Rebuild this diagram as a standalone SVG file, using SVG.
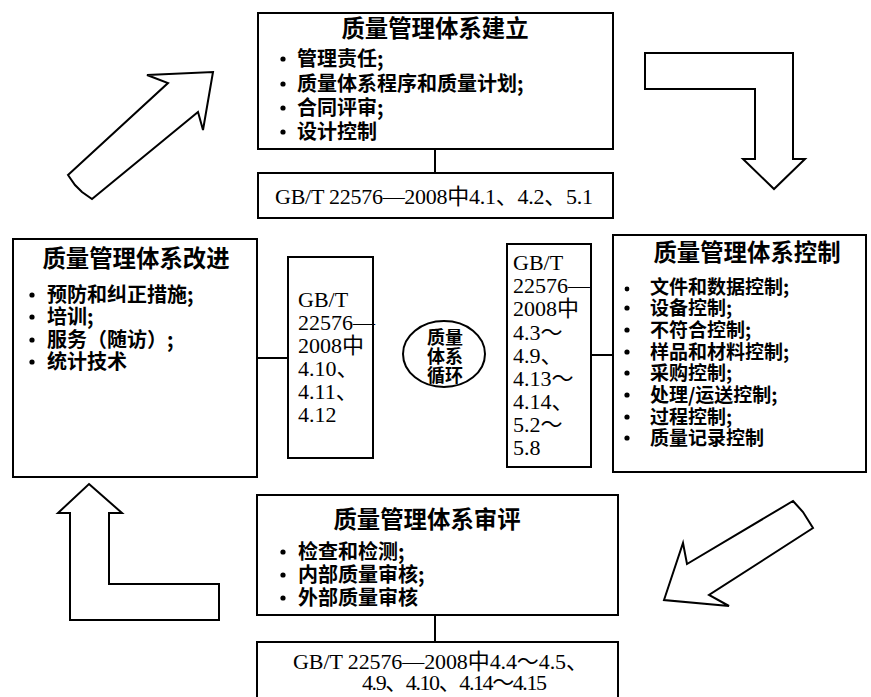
<svg xmlns="http://www.w3.org/2000/svg" width="871" height="697" viewBox="0 0 871 697">
<style>
.box{fill:#fff;stroke:#000;stroke-width:2}
.arr{fill:#fff;stroke:#000;stroke-width:2;stroke-linejoin:miter}
.ln{stroke:#000;stroke-width:2;fill:none}
.ttl{font-family:"Noto Sans CJK SC","Noto Sans",sans-serif;font-weight:bold;font-size:23.4px;fill:#000;text-anchor:middle}
.it{font-family:"Noto Sans CJK SC","Noto Sans",sans-serif;font-weight:bold;font-size:20px;fill:#000}
.it2{font-family:"Noto Sans CJK SC","Noto Sans",sans-serif;font-weight:bold;font-size:19px;fill:#000}
.gb{font-family:"Liberation Serif","Noto Sans CJK SC",serif;font-size:22px;fill:#000}
.cir{font-family:"Noto Sans CJK SC",sans-serif;font-weight:bold;font-size:18px;fill:#000;text-anchor:middle}
.bl{fill:#000}
</style>
<rect width="871" height="697" fill="#fff"/>
<g id="arrows">
<polygon class="arr" points="68,175 168,83 147,75 213,72 203,130 198,112 92,199 82,192 75,185"/>
<polygon class="arr" points="645,53 793,53 793,159 805,159 774,189 743,159 755,159 755,89 645,89"/>
<polygon class="arr" points="793,501 803,512 813,528 709,595 729,606 664,600 683,543 687,564"/>
<polygon class="arr" points="89,484 122,513 109,513 109,584 219,584 219,620 70,620 70,513 58,513"/>
</g>
<g id="connectors">
<line class="ln" x1="435" y1="149" x2="435" y2="173"/>
<line class="ln" x1="257" y1="358" x2="288" y2="358"/>
<line class="ln" x1="591" y1="355" x2="613" y2="355"/>
<line class="ln" x1="435" y1="615" x2="435" y2="642"/>
</g>
<g id="establish">
<rect class="box" x="258" y="13" width="355" height="136"/>
<text class="ttl" x="435" y="37">质量管理体系建立</text>
<circle class="bl" cx="283" cy="59" r="2.6"/><circle class="bl" cx="283" cy="84" r="2.6"/><circle class="bl" cx="283" cy="108" r="2.6"/><circle class="bl" cx="283" cy="132" r="2.6"/>
<text class="it" x="297" y="66">管理责任;</text>
<text class="it" x="297" y="91">质量体系程序和质量计划;</text>
<text class="it" x="297" y="115">合同评审;</text>
<text class="it" x="297" y="139">设计控制</text>
</g>
<g id="establish-std">
<rect class="box" x="258" y="173" width="355" height="45"/>
<text class="gb" x="275" y="204" textLength="318" lengthAdjust="spacing">GB/T 22576—2008中4.1、4.2、5.1</text>
</g>
<g id="improve">
<rect class="box" x="13" y="239" width="244" height="238"/>
<text class="ttl" x="136" y="267">质量管理体系改进</text>
<circle class="bl" cx="32" cy="295" r="2.6"/><circle class="bl" cx="32" cy="317" r="2.6"/><circle class="bl" cx="32" cy="340" r="2.6"/><circle class="bl" cx="32" cy="362" r="2.6"/>
<text class="it" x="47" y="302">预防和纠正措施;</text>
<text class="it" x="47" y="324">培训;</text>
<text class="it" x="47" y="347">服务（随访）;</text>
<text class="it" x="47" y="369">统计技术</text>
</g>
<g id="improve-std">
<rect class="box" x="288" y="257" width="85" height="201"/>
<text class="gb" x="298" y="307">GB/T</text>
<text class="gb" x="298" y="330">22576—</text>
<text class="gb" x="298" y="353">2008中</text>
<text class="gb" x="298" y="376">4.10、</text>
<text class="gb" x="298" y="399">4.11、</text>
<text class="gb" x="298" y="422">4.12</text>
</g>
<g id="cycle">
<ellipse class="box" cx="444" cy="354" rx="41" ry="33"/>
<text class="cir" x="445" y="344">质量</text>
<text class="cir" x="445" y="363">体系</text>
<text class="cir" x="445" y="382">循环</text>
</g>
<g id="control-std">
<rect class="box" x="507" y="244" width="84" height="223"/>
<text class="gb" x="513" y="270">GB/T</text>
<text class="gb" x="513" y="293">22576—</text>
<text class="gb" x="513" y="316">2008中</text>
<text class="gb" x="513" y="340">4.3～</text>
<text class="gb" x="513" y="363">4.9、</text>
<text class="gb" x="513" y="386">4.13～</text>
<text class="gb" x="513" y="409">4.14、</text>
<text class="gb" x="513" y="432">5.2～</text>
<text class="gb" x="513" y="455">5.8</text>
</g>
<g id="control">
<rect class="box" x="613" y="235" width="253" height="237"/>
<text class="ttl" x="747" y="261">质量管理体系控制</text>
<circle class="bl" cx="627" cy="289" r="2.4"/><circle class="bl" cx="627" cy="308" r="2.6"/><circle class="bl" cx="627" cy="330" r="2.6"/><circle class="bl" cx="627" cy="352" r="2.6"/><circle class="bl" cx="627" cy="373" r="2.6"/><circle class="bl" cx="627" cy="395" r="2.6"/><circle class="bl" cx="627" cy="417" r="2.6"/><circle class="bl" cx="627" cy="438" r="2.6"/>
<text class="it2" x="650" y="294">文件和数据控制;</text>
<text class="it2" x="650" y="315">设备控制;</text>
<text class="it2" x="650" y="337">不符合控制;</text>
<text class="it2" x="650" y="359">样品和材料控制;</text>
<text class="it2" x="650" y="380">采购控制;</text>
<text class="it2" x="650" y="402">处理/运送控制;</text>
<text class="it2" x="650" y="424">过程控制;</text>
<text class="it2" x="650" y="445">质量记录控制</text>
</g>
<g id="review">
<rect class="box" x="257" y="495" width="361" height="120"/>
<text class="ttl" x="427" y="528">质量管理体系审评</text>
<circle class="bl" cx="283" cy="552" r="2.6"/><circle class="bl" cx="283" cy="575" r="2.6"/><circle class="bl" cx="283" cy="598" r="2.6"/>
<text class="it" x="298" y="559">检查和检测;</text>
<text class="it" x="298" y="582">内部质量审核;</text>
<text class="it" x="298" y="605">外部质量审核</text>
</g>
<g id="review-std">
<rect class="box" x="257" y="642" width="361" height="60"/>
<text class="gb" x="293" y="669" textLength="295" lengthAdjust="spacing">GB/T 22576—2008中4.4～4.5、</text>
<text class="gb" x="362" y="690" textLength="185" lengthAdjust="spacing">4.9、4.10、4.14～4.15</text>
</g>
</svg>
